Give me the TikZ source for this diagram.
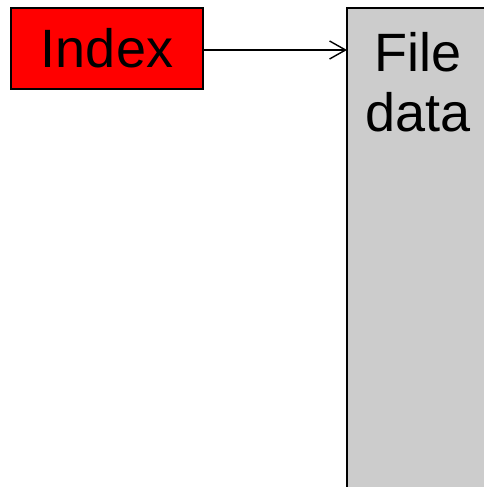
\documentclass[tikz,border=0pt]{standalone}
\usepackage{fontspec}
\setmainfont{Liberation Sans}
\usetikzlibrary{arrows.meta}
\begin{document}
\begin{tikzpicture}[x=1pt,y=1pt,
  box/.style={draw=black,line width=1.8pt,inner sep=0pt,outer sep=0pt},
  label/.style={font=\fontsize{54}{60}\selectfont,align=center,text=black}]
\useasboundingbox (0,0) rectangle (484,487);
\clip (0,0) rectangle (484,487);
\node[box,fill=red,minimum width=192pt,minimum height=81pt,anchor=north west] (index) at (11,479) {};
\node[label] at (index.center) {Index};
\node[box,fill={rgb,255:red,204;green,204;blue,204},minimum width=144pt,minimum height=490pt,anchor=north west] (file) at (347,479) {};
\node[label,anchor=north] (filetxt) at (418,458) {File\\data};
\draw[line width=1.4pt,-{Straight Barb[length=16pt,width=18pt,line width=1.4pt]}] (index.east |- 0,437) -- (file.west |- 0,437);
\end{tikzpicture}
\end{document}
